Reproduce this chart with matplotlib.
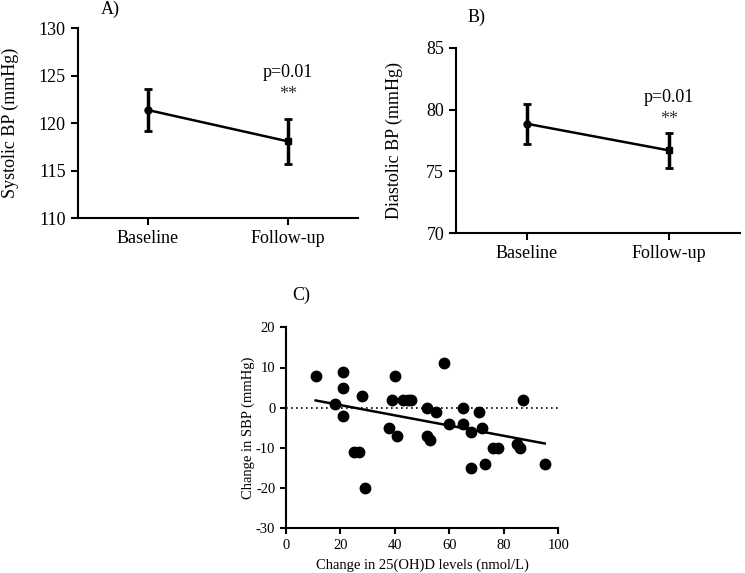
import matplotlib
matplotlib.use("Agg")
import matplotlib.pyplot as plt
import numpy as np

plt.rcParams['font.family'] = ['Liberation Serif', 'DejaVu Serif']
plt.rcParams['axes.unicode_minus'] = False

# ---- Data ----
groups = ["Baseline", "Follow-up"]
sbp_mean = [121.4, 118.1]
sbp_sem = [2.25, 2.35]
dbp_mean = [78.85, 76.7]
dbp_sem = [1.6, 1.4]

delta_vitd = [11, 18, 21, 21, 21, 28, 25, 27, 29, 38, 39, 40, 41, 43, 45, 46,
              52, 52, 53, 55, 58, 60, 65, 65, 68, 68, 71, 72, 73, 76, 78, 85,
              86, 87, 95]
delta_sbp = [8, 1, 9, 5, -2, 3, -11, -11, -20, -5, 2, 8, -7, 2, 2, 2,
             0, -7, -8, -1, 11, -4, 0, -4, -6, -15, -1, -5, -14, -10, -10, -9,
             -10, 2, -14]
fit_x = [11, 95]
fit_y = [1.8, -8.9]

W, H = 745, 573
fig = plt.figure(figsize=(W / 100, H / 100), dpi=100)


def ax_px(left, right, top, bottom):
    return fig.add_axes([left / W, 1 - bottom / H, (right - left) / W, (bottom - top) / H])


def style(ax, fs):
    for s in ["top", "right"]:
        ax.spines[s].set_visible(False)
    for s in ["left", "bottom"]:
        ax.spines[s].set_linewidth(1.5)
    ax.tick_params(width=1.5, length=5, labelsize=fs, direction="out")


def bp_panel(ax, means, sems, ylim, yticks, ylabel, labelpad, ptext_y, star_y):
    x = np.arange(len(groups))
    ax.plot(x, means, color="black", lw=1.8, zorder=2)
    ax.errorbar(x[0], means[0], yerr=sems[0], fmt="o", ms=5, color="black",
                ecolor="black", elinewidth=2.5, capsize=3, capthick=2, zorder=3)
    ax.errorbar(x[1], means[1], yerr=sems[1], fmt="s", ms=5, color="black",
                ecolor="black", elinewidth=2.5, capsize=3, capthick=2, zorder=3)
    ax.set_xlim(-0.5, 1.5)
    ax.set_ylim(*ylim)
    ax.set_yticks(yticks)
    ax.set_xticks(x)
    ax.set_xticklabels(groups)
    ax.set_ylabel(ylabel, fontsize=13, labelpad=labelpad)
    style(ax, 13)
    ax.text(1, ptext_y, "p=0.01", ha="center", va="center", fontsize=13)
    ax.text(1, star_y, "**", ha="center", va="center", fontsize=13, color="#333333")


# Panel A
axA = ax_px(77.7, 358, 28.3, 218.3)
bp_panel(axA, sbp_mean, sbp_sem, (110, 130), [110, 115, 120, 125, 130],
         "Systolic BP (mmHg)", 14, 125.4, 123.0)
fig.text(110 / W, 1 - 9 / H, "A)", ha="center", va="center", fontsize=13)

# Panel B
axB = ax_px(456, 740, 47.7, 233.3)
bp_panel(axB, dbp_mean, dbp_sem, (70, 85), [70, 75, 80, 85],
         "Diastolic BP (mmHg)", 17, 81.0, 79.2)
fig.text(477 / W, 1 - 17 / H, "B)", ha="center", va="center", fontsize=13)

# Panel C
axC = ax_px(285.7, 558.3, 327.3, 528.3)
axC.axhline(0, color="black", lw=1.2, ls=(0, (1, 2)), zorder=1)
axC.plot(delta_vitd, delta_sbp, "o", color="black", ms=7.5, zorder=3)
axC.plot(fit_x, fit_y, color="black", lw=1.8, zorder=2)
axC.set_xlim(0, 100)
axC.set_ylim(-30, 20)
axC.set_xticks([0, 20, 40, 60, 80, 100])
axC.set_yticks([-30, -20, -10, 0, 10, 20])
axC.set_xlabel("Change in 25(OH)D levels (nmol/L)", fontsize=10.5, labelpad=5)
axC.set_ylabel("Change in SBP (mmHg)", fontsize=10.5, labelpad=1)
style(axC, 10.5)
axC.tick_params(length=4)
fig.text(301.7 / W, 1 - 295 / H, "C)", ha="center", va="center", fontsize=13)

fig.savefig("out.png", dpi=100)
